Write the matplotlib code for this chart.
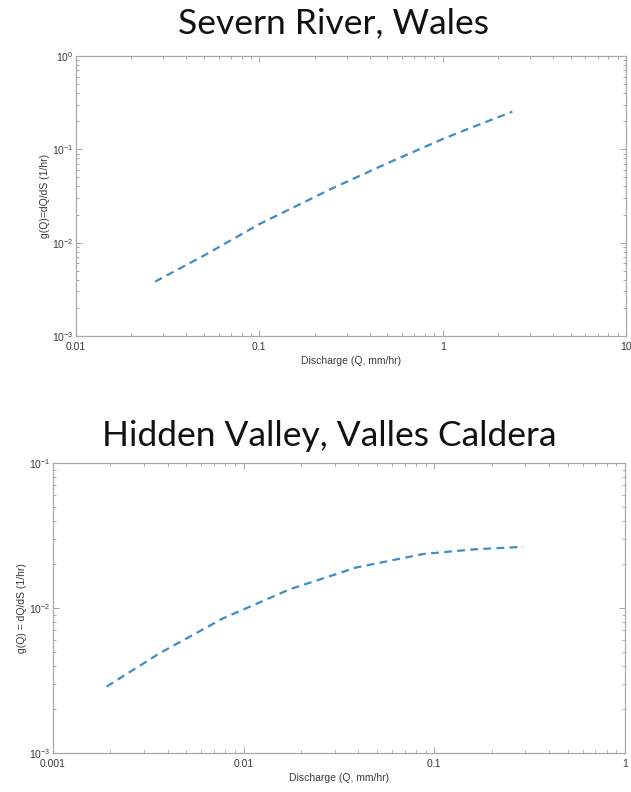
import numpy as np
import matplotlib
matplotlib.use("Agg")
import matplotlib.pyplot as plt
from matplotlib.ticker import FixedLocator, FixedFormatter, LogLocator, NullFormatter

# Severn River, Wales: g(Q) vs Q
severn_q = [0.027, 0.05, 0.1, 0.25, 0.5, 1.0, 1.5, 2.4]
severn_g = [0.00382, 0.0073, 0.0158, 0.0382, 0.0710, 0.129, 0.177, 0.253]

# Hidden Valley, Valles Caldera
hidden_q = [0.00191, 0.00363, 0.0078, 0.01746, 0.0391, 0.0873, 0.160, 0.292]
hidden_g = [0.00287, 0.00488, 0.00849, 0.01346, 0.01905, 0.02355, 0.02536, 0.02642]

severn_xticks = [0.01, 0.1, 1, 10]
severn_xlabels = ["0.01", "0.1", "1", "10"]
hidden_xticks = [0.001, 0.01, 0.1, 1]
hidden_xlabels = ["0.001", "0.01", "0.1", "1"]

W, H = 631, 792
LINE_C = "#3C8DC8"
SPINE_C = "#A8A8A8"
TEXT_C = "#3A3A3A"

plt.rcParams["axes.unicode_minus"] = False


def px_axes(fig, left, top, right, bottom):
    return fig.add_axes([left / W, 1 - bottom / H, (right - left) / W, (bottom - top) / H])


def style(ax, xticks, xlabels, xlim, ylim, ylabel):
    ax.set_xscale("log")
    ax.set_yscale("log")
    ax.set_xlim(*xlim)
    ax.set_ylim(*ylim)
    ax.xaxis.set_major_locator(FixedLocator(xticks))
    ax.xaxis.set_major_formatter(FixedFormatter(xlabels))
    ax.xaxis.set_minor_locator(LogLocator(base=10, subs=np.arange(2, 10)))
    ax.xaxis.set_minor_formatter(NullFormatter())
    ax.yaxis.set_minor_locator(LogLocator(base=10, subs=np.arange(2, 10)))
    ax.yaxis.set_minor_formatter(NullFormatter())
    for s in ax.spines.values():
        s.set_color(SPINE_C)
        s.set_linewidth(0.9)
    ax.tick_params(which="both", direction="in", top=True, right=True,
                   color=SPINE_C, labelcolor=TEXT_C, labelsize=7.5, width=0.7)
    ax.tick_params(which="major", length=4)
    ax.tick_params(axis="x", which="major", pad=4)
    ax.tick_params(axis="y", which="major", pad=2)
    ax.tick_params(which="minor", length=2)
    ax.set_xlabel("Discharge (Q, mm/hr)", fontsize=7.5, color=TEXT_C, labelpad=3)
    ax.set_ylabel(ylabel, fontsize=7.5, color=TEXT_C, labelpad=1)


fig = plt.figure(figsize=(W / 100, H / 100), dpi=100)
plt.rcParams["font.family"] = ["Liberation Sans", "DejaVu Sans"]

ax1 = px_axes(fig, 76, 56, 626, 336)
ax1.plot(severn_q, severn_g, color=LINE_C, lw=1.6, dashes=(3.5, 2.4))
style(ax1, severn_xticks, severn_xlabels, (0.01, 10), (1e-3, 1), "g(Q)=dQ/dS (1/hr)")

ax2 = px_axes(fig, 53, 463, 625, 753)
ax2.plot(hidden_q, hidden_g, color=LINE_C, lw=1.6, dashes=(3.5, 2.4))
style(ax2, hidden_xticks, hidden_xlabels, (0.001, 1), (1e-3, 1e-1), "g(Q) = dQ/dS (1/hr)")

fig.text(333 / W, 1 - 23 / H, "Severn River, Wales", ha="center", va="center",
         fontsize=25.5, family=["Lato", "DejaVu Sans"], color="#111111")
fig.text(329 / W, 1 - 436 / H, "Hidden Valley, Valles Caldera", ha="center", va="center",
         fontsize=25.5, family=["Lato", "DejaVu Sans"], color="#111111")

fig.savefig("out.png", dpi=100)
